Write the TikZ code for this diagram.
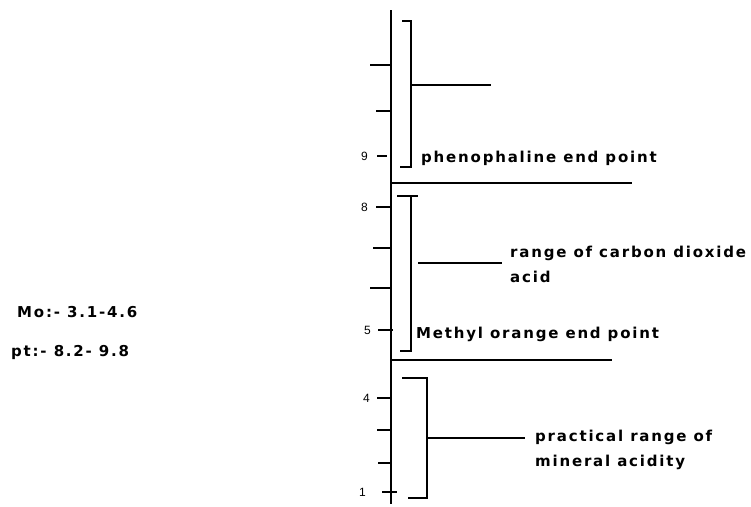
\documentclass[tikz,border=0pt]{standalone}
\usepackage{fontspec}
\setmainfont{Liberation Sans}
\newfontfamily\lblfont[LetterSpace=12]{DejaVu Sans}
\begin{document}
\begin{tikzpicture}[x=1pt,y=-1pt]
\tikzstyle{bar} = [line width=2.8pt]
\tikzstyle{lbl} = [font=\lblfont\bfseries\fontsize{15}{25}\selectfont, anchor=west, inner sep=0pt, align=left]
\tikzstyle{num} = [font=\fontsize{12}{12}\selectfont, anchor=east, inner sep=0pt]

\useasboundingbox (0,0) rectangle (751,506);

% pH scale
\coordinate (top) at (391,10);
\coordinate (bot) at (391,504);
\draw[bar] (top) -- (bot);

\draw[bar] (370,65) -- (391,65);
\draw[bar] (376,111) -- (391,111);
\draw[bar] (377,156) -- (387,156);
\draw[bar] (376,207) -- (391,207);
\draw[bar] (373,248) -- (391,248);
\draw[bar] (370,288) -- (391,288);
\draw[bar] (378,330) -- (393,330);
\draw[bar] (377,398) -- (391,398);
\draw[bar] (377,430) -- (391,430);
\draw[bar] (378,463) -- (391,463);
\draw[bar] (382,492) -- (397,492);

\node[num] (n9) at (368,156) {9};
\node[num] (n8) at (368,207) {8};
\node[num] (n5) at (371,330) {5};
\node[num] (n4) at (370,398) {4};
\node[num] (n1) at (366,492) {1};

% end point lines
\coordinate (ph) at (391,183);
\coordinate (phe) at (632,183);
\draw[bar] (ph) -- (phe);
\coordinate (mo) at (391,360);
\coordinate (moe) at (612,360);
\draw[bar] (mo) -- (moe);

% brackets
\draw[bar] (402,21) -- (411,21) -- (411,167) -- (400,167);
\coordinate (b1) at (411,85);
\coordinate (b1e) at (491,85);
\draw[bar] (b1) -- (b1e);

\draw[bar] (397,196) -- (418,196);
\draw[bar] (411,196) -- (411,351) -- (400,351);
\coordinate (b2) at (418,263);
\coordinate (b2e) at (502,263);
\draw[bar] (b2) -- (b2e);

\draw[bar] (402,378) -- (427,378) -- (427,498) -- (408,498);
\coordinate (b3) at (427,438);
\coordinate (b3e) at (525,438);
\draw[bar] (b3) -- (b3e);

% labels
\node[lbl] (phen) at (421,158) {phenophaline end point};
\node[lbl] (carb) at (510,264) {range of carbon dioxide\\acid};
\node[lbl] (meth) at (416,334) {Methyl orange end point};
\node[lbl] (mine) at (535,450) {practical range of\\mineral acidity};
\node[lbl] (mo) at (17,312) {Mo:- 3.1-4.6};
\node[lbl] (pt) at (11,352) {pt:- 8.2- 9.8};

\end{tikzpicture}
\end{document}
